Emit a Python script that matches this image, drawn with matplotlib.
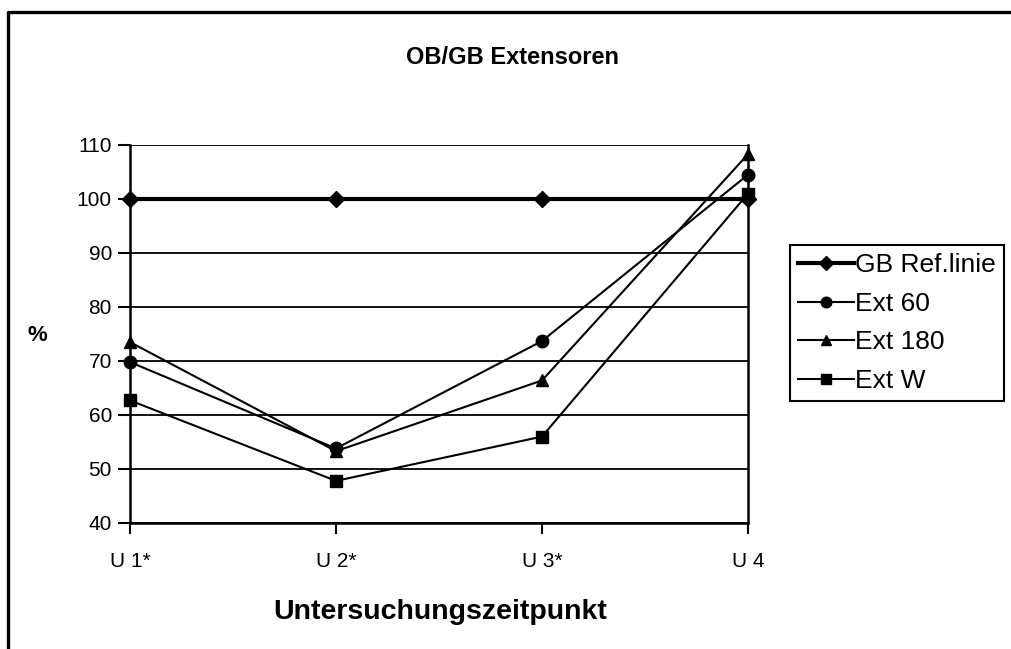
import matplotlib
matplotlib.use("Agg")
import matplotlib.pyplot as plt
from matplotlib.lines import Line2D

plt.rcParams['font.family'] = ['Liberation Sans', 'DejaVu Sans']

categories = ["U 1*", "U 2*", "U 3*", "U 4"]
gb_ref = [100, 100, 100, 100]
ext_60 = [69.8, 53.8, 73.7, 104.5]
ext_180 = [73.5, 53.3, 66.4, 108.3]
ext_w = [62.7, 47.8, 56.0, 101.0]
y_ticks = [40, 50, 60, 70, 80, 90, 100, 110]

W, H = 1011, 649
fig = plt.figure(figsize=(W / 100, H / 100), dpi=100)
fig.patch.set_facecolor('white')

# outer chart border (left and top visible, rest beyond image)
fig.add_artist(Line2D([8 / W, 8 / W, 1.01], [-0.01, 1 - 12 / H, 1 - 12 / H],
                      transform=fig.transFigure, color='black', lw=2.4))

ax = fig.add_axes([130 / W, (H - 523) / H, (748 - 130) / W, (523 - 145) / H])
x = list(range(len(categories)))

ax.set_xlim(0, len(categories) - 1)
ax.set_ylim(40, 110)
ax.set_yticks(y_ticks)
ax.set_xticks(x)
ax.set_xticklabels(categories)
ax.tick_params(axis='y', labelsize=15, length=9, width=1.5, direction='out', pad=4)
ax.tick_params(axis='x', labelsize=15, length=8, width=1.5, direction='out', pad=13)

for yv in y_ticks:
    ax.axhline(yv, color='black', lw=1.3, zorder=1)

for side in ['left', 'bottom', 'right']:
    ax.spines[side].set_linewidth(1.8)
    ax.spines[side].set_color('black')
ax.spines['top'].set_visible(False)

ax.plot(x, gb_ref, color='black', lw=3, marker='D', ms=8, label='GB Ref.linie', zorder=5, clip_on=False)
ax.plot(x, ext_60, color='black', lw=1.5, marker='o', ms=9, label='Ext 60', zorder=4, clip_on=False)
ax.plot(x, ext_180, color='black', lw=1.5, marker='^', ms=9, label='Ext 180', zorder=4, clip_on=False)
ax.plot(x, ext_w, color='black', lw=1.5, marker='s', ms=8, label='Ext W', zorder=4, clip_on=False)

fig.text(512 / W, 1 - 58 / H, "OB/GB Extensoren", ha='center', va='center',
         fontsize=17, fontweight='bold')
fig.text(440 / W, 1 - 612 / H, "Untersuchungszeitpunkt", ha='center', va='center',
         fontsize=20.5, fontweight='bold')
fig.text(37 / W, 1 - 335 / H, "%", ha='center', va='center',
         fontsize=16, fontweight='bold')

leg = fig.legend(loc='upper left', bbox_to_anchor=(790 / W, 1 - 245 / H),
                 bbox_transform=fig.transFigure, frameon=True, fancybox=False,
                 fontsize=19, handlelength=2.1, handletextpad=0.03,
                 borderpad=0.32, labelspacing=0.55, borderaxespad=0,
                 markerscale=0.85)
leg.get_frame().set_edgecolor('black')
leg.get_frame().set_linewidth(1.5)
leg.get_frame().set_alpha(1)

fig.savefig('out.png', dpi=100, facecolor='white')
